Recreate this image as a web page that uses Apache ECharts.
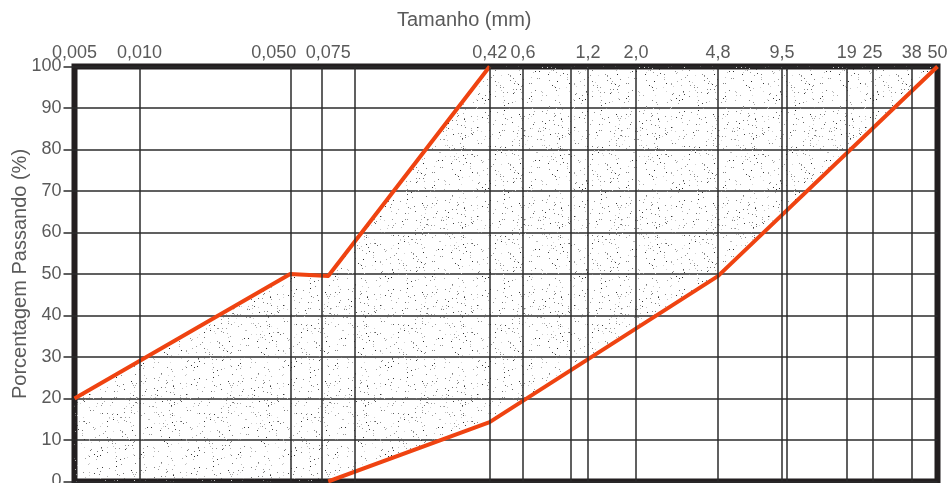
<!DOCTYPE html>
<html>
<head>
<meta charset="utf-8">
<script src="https://cdn.jsdelivr.net/npm/echarts@6/dist/echarts.min.js"></script>
<style>
html,body{margin:0;padding:0;background:#fff;}
#chart{width:952px;height:483px;}
</style>
</head>
<body>
<div id="chart"></div>
<script>
// ---- data ----
const tickValues = [0.005, 0.01, 0.05, 0.075, 0.42, 0.6, 1.2, 2.0, 4.8, 9.5, 19, 25, 38, 50];
const tickLabels = ['0,005', '0,010', '0,050', '0,075', '0,42', '0,6', '1,2', '2,0', '4,8', '9,5', '19', '25', '38', '50'];
const extraGridValues = [0.1, 1, 10];

const upperX = [0.005, 0.05, 0.075, 0.42];
const upperY = [20, 50, 49.5, 100];
const lowerX = [0.075, 0.42, 4.8, 50];
const lowerY = [0, 14.3, 49.5, 100];

// ---- styles ----
const FONT = '"Liberation Sans", Arial, Helvetica, sans-serif';
const TEXT = '#5a5a5a';
const GRIDC = '#2b2b2b';
const RED = '#ef4311';
const X_MIN = tickValues[0], X_MAX = tickValues[tickValues.length - 1];

function makeStipple() {
  const c = document.createElement('canvas');
  c.width = 97; c.height = 89;
  const ctx = c.getContext('2d');
  let s = 987654321;
  const h = () => { s = (Math.imul(s, 1664525) + 1013904223) >>> 0; return s / 4294967296; };
  for (let i = 0; i < 300; i++) {
    const x = Math.floor(h() * 97), y = Math.floor(h() * 89);
    const r = h();
    const g = r < 0.2 ? Math.floor(40 + h() * 60) : Math.floor(110 + h() * 110);
    ctx.fillStyle = 'rgb(' + g + ',' + g + ',' + g + ')';
    ctx.fillRect(x, y, 1, 1);
  }
  return c;
}
const stipple = makeStipple();

function labelFor(v) {
  let best = 0, bd = Infinity;
  for (let i = 0; i < tickValues.length; i++) {
    const d = Math.abs(Math.log(v) - Math.log(tickValues[i]));
    if (d < bd) { bd = d; best = i; }
  }
  if (best === 2) return '{s|' + tickLabels[best] + '}';
  return tickLabels[best];
}

const gridLineValues = tickValues.slice(1, -1).concat(extraGridValues);

const chart = echarts.init(document.getElementById('chart'), null, { renderer: 'canvas' });
chart.setOption({
  animation: false,
  backgroundColor: '#fff',
  title: {
    text: 'Tamanho (mm)',
    left: 397, top: 10, padding: 0,
    textStyle: { fontFamily: FONT, fontSize: 20, fontWeight: 'normal', color: TEXT }
  },
  grid: {
    left: 74.5, right: 14.5, top: 66.5, bottom: 1.5,
    containLabel: false, outerBoundsMode: 'none',
    show: true, borderWidth: 6, borderColor: '#231f20', backgroundColor: 'transparent'
  },
  xAxis: {
    type: 'log', logBase: 10, min: X_MIN, max: X_MAX, position: 'top',
    axisLine: { show: false }, axisTick: { show: false }, splitLine: { show: false },
    minorTick: { show: false }, minorSplitLine: { show: false },
    axisLabel: {
      customValues: tickValues,
      formatter: labelFor,
      fontFamily: FONT, fontSize: 18, color: TEXT, margin: 4,
      showMinLabel: true, showMaxLabel: true, hideOverlap: false,
      rich: { s: { fontFamily: FONT, fontSize: 18, color: TEXT, padding: [0, 33, 0, 0] } }
    }
  },
  yAxis: {
    type: 'value', min: 0, max: 100, interval: 10,
    name: 'Porcentagem Passando (%)', nameLocation: 'middle', nameGap: 44,
    nameMoveOverlap: false,
    nameTextStyle: { fontFamily: FONT, fontSize: 20, color: TEXT },
    axisLine: { show: false },
    axisTick: { show: true, length: 11, lineStyle: { color: GRIDC, width: 1.5 } },
    axisLabel: { fontFamily: FONT, fontSize: 18, color: TEXT, margin: 13 },
    splitLine: { show: true, lineStyle: { color: GRIDC, width: 1.5 } }
  },
  series: [
    {
      type: 'custom', z: 1, silent: true, clip: true,
      data: [[1, 50]],
      renderItem: function (params, api) {
        const pts = [];
        for (let i = 0; i < upperX.length; i++) pts.push(api.coord([upperX[i], upperY[i]]));
        for (let i = lowerX.length - 1; i >= 0; i--) pts.push(api.coord([lowerX[i], lowerY[i]]));
        pts.push(api.coord([X_MIN, 0]));
        return {
          type: 'polygon',
          shape: { points: pts },
          style: { fill: { type: 'pattern', image: stipple, repeat: 'repeat' }, stroke: null }
        };
      }
    },
    {
      type: 'line', data: [], z: 2, silent: true,
      markLine: {
        silent: true, symbol: ['none', 'none'], animation: false,
        label: { show: false },
        lineStyle: { color: GRIDC, width: 1.5, type: 'solid' },
        emphasis: { disabled: true },
        data: gridLineValues.map(v => ({ xAxis: v }))
      }
    },
    {
      type: 'line', z: 3, symbol: 'none', silent: true,
      lineStyle: { color: RED, width: 4 },
      data: upperX.map((x, i) => [x, upperY[i]])
    },
    {
      type: 'line', z: 3, symbol: 'none', silent: true,
      lineStyle: { color: RED, width: 4 },
      data: lowerX.map((x, i) => [x, lowerY[i]])
    }
  ]
});
</script>
</body>
</html>
